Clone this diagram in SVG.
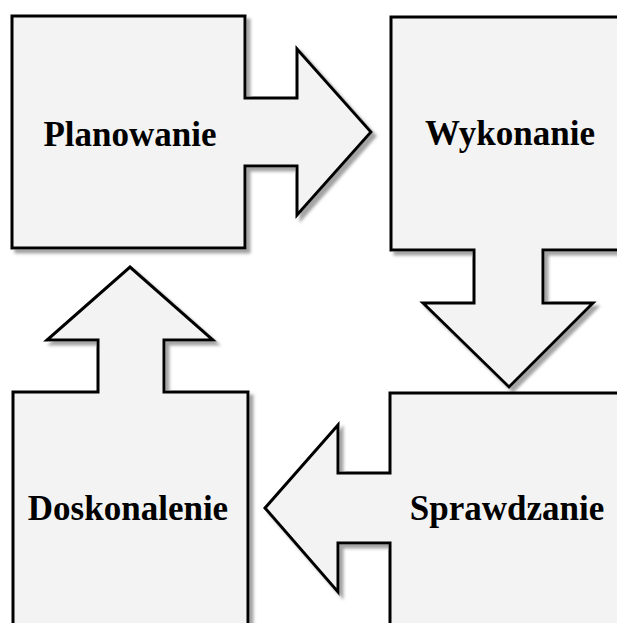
<svg xmlns="http://www.w3.org/2000/svg" width="617" height="623" viewBox="0 0 617 623">
<defs>
<filter id="sh" x="-10%" y="-10%" width="130%" height="130%">
<feDropShadow dx="4" dy="4" stdDeviation="1.5" flood-color="#9a9a9a" flood-opacity="0.9"/>
</filter>
<style>
.shape{fill:#f3f3f3;stroke:#000;stroke-width:3;stroke-linejoin:miter;filter:url(#sh)}
.lbl{font-family:"Liberation Serif","Times New Roman",serif;font-weight:bold;font-size:35px;fill:#000;text-anchor:middle}
</style>
</defs>
<rect width="617" height="623" fill="#fff"/>
<g id="planowanie">
<path class="shape" d="M12,16 H245 V98 H297 V49 L371,132 L297,215 V166 H245 V248 H12 Z"/>
<text class="lbl" x="130" y="146">Planowanie</text>
</g>
<g id="wykonanie">
<path class="shape" d="M391,17 H640 V250 H543 V303 H593 L509,387 L423,303 H474 V250 H391 Z"/>
<text class="lbl" x="510" y="145">Wykonanie</text>
</g>
<g id="sprawdzanie">
<path class="shape" d="M265,508 L338,425 V473 H390 V393 H640 V650 H390 V543 H338 V592 Z"/>
<text class="lbl" x="507" y="520">Sprawdzanie</text>
</g>
<g id="doskonalenie">
<path class="shape" d="M130,267 L213,340 H164 V392 H248 V650 H13 V392 H98 V340 H47 Z"/>
<text class="lbl" x="128" y="520">Doskonalenie</text>
</g>
<g id="connectors"></g>
</svg>
